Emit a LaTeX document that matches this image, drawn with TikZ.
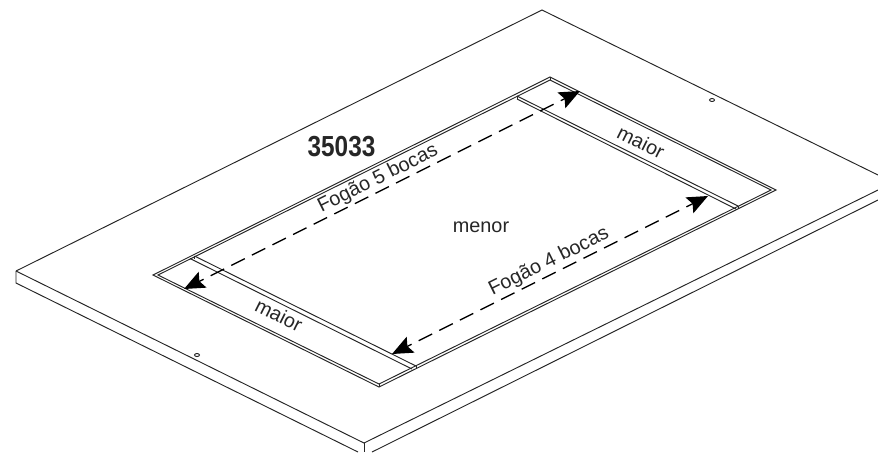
\documentclass[tikz,border=0pt]{standalone}
\usepackage{fontspec}
\setmainfont{Liberation Sans}
\usetikzlibrary{arrows.meta}

\tikzset{
  edgeline/.style={line width=.27pt, black!85},
  dimline/.style={line width=.38pt, black, dash pattern=on 4.27pt off 2.28pt, dash phase=2.85pt, {Stealth[length=5.9pt,width=5pt,inset=1pt]}-{Stealth[length=5.9pt,width=5pt,inset=1pt]}},
  txtlabel/.style={font=\fontsize{5.65}{6}\selectfont, inner sep=0pt, text=black!85}
}

\begin{document}
\begin{tikzpicture}
\useasboundingbox (0,0) rectangle (8.78,4.52);

% board
\draw[edgeline] (0.16,1.81) -- (5.42,4.42) -- (8.78,2.77);
\draw[edgeline] (0.16,1.81) -- (3.64,0.09) -- (8.78,2.62);
\draw[edgeline] (0.16,1.81) -- (0.16,1.69) -- (3.58,0);
\draw[edgeline] (3.64,0.09) -- (3.64,0);
\draw[edgeline] (3.72,0) -- (8.78,2.52);

% holes
\draw[edgeline] (1.97,0.97) ellipse (.025 and .015);
\draw[edgeline] (7.12,3.52) ellipse (.025 and .015);

% cut-out
\draw[edgeline] (1.53,1.77) -- (5.50,3.75) -- (7.76,2.62) -- (3.79,0.65) -- cycle;
\draw[edgeline] (1.58,1.77) -- (5.50,3.72) -- (7.71,2.62) -- (3.79,0.68) -- cycle;
\draw[edgeline] (5.50,3.75) -- (5.50,3.72);
\draw[edgeline] (3.79,0.65) -- (3.79,0.68);

% strips
\draw[edgeline] (1.945,1.96) -- (4.16,0.86);
\draw[edgeline] (1.90,1.935) -- (4.12,0.83);
\draw[edgeline] (1.945,1.96) -- (1.945,1.93);
\draw[edgeline] (4.16,0.86) -- (4.16,0.83);
\draw[edgeline] (5.17,3.56) -- (7.38,2.46);
\draw[edgeline] (5.17,3.53) -- (7.36,2.43);
\draw[edgeline] (5.17,3.56) -- (5.17,3.53);
\draw[edgeline] (7.38,2.46) -- (7.38,2.43);

% arrows
\coordinate (fivea) at (1.84,1.63);
\coordinate (fiveb) at (5.80,3.61);
\coordinate (foura) at (3.92,0.98);
\coordinate (fourb) at (7.08,2.56);
\draw[dimline] (fivea) -- (fiveb);
\draw[dimline] (foura) -- (fourb);

% labels
\node[txtlabel, rotate=26.5] (fivelbl) at (3.78,2.73) {Fogão 5 bocas};
\node[txtlabel, rotate=26.5] (fourlbl) at (5.49,1.90) {Fogão 4 bocas};
\node[txtlabel, rotate=-26.5] (maiorlow) at (2.79,1.37) {maior};
\node[txtlabel, rotate=-26.5] (maiorup) at (6.41,3.10) {maior};
\node[txtlabel] (menorlbl) at (4.81,2.25) {menor};
\node[inner sep=0pt, xscale=.84, font=\fontsize{8.25}{9}\selectfont\bfseries, text=black!85] (reflbl) at (3.415,3.055) {35033};
\end{tikzpicture}
\end{document}
